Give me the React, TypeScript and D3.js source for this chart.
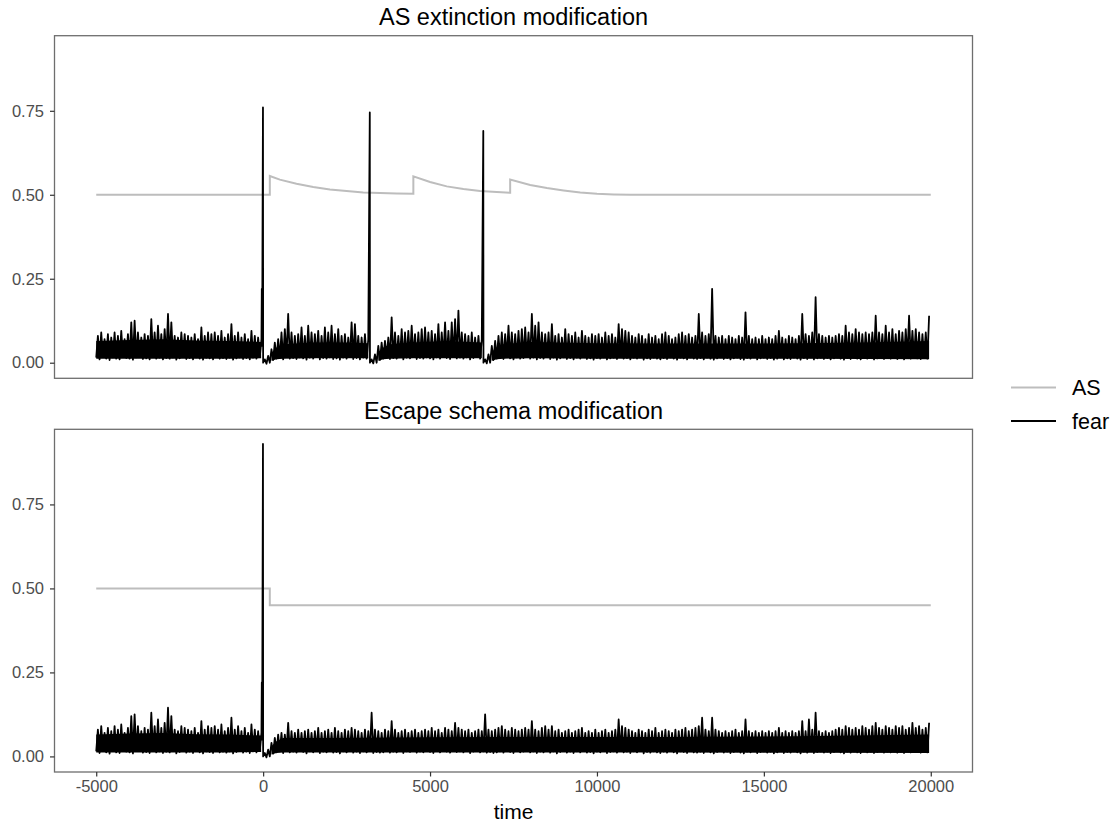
import { useRef, useEffect } from "react";
import * as d3 from "d3";

const NOISE_START = -5000;
const BIN = 100;

const panelTitles = ["AS extinction modification", "Escape schema modification"];
const xTicks = [-5000, 0, 5000, 10000, 15000, 20000];
const yTicks = [0, 0.25, 0.5, 0.75];
const seriesNames = ["AS", "fear"];

// -5000 .. -100 (same run in both panels)
const fearHighPre = [
  0.08, 0.09, 0.07, 0.085, 0.075, 0.09, 0.08, 0.095, 0.07, 0.085,
  0.12, 0.125, 0.09, 0.075, 0.085, 0.08, 0.13, 0.09, 0.11, 0.085,
  0.1, 0.145, 0.12, 0.08, 0.075, 0.09, 0.085, 0.08, 0.075, 0.085,
  0.07, 0.105, 0.08, 0.09, 0.085, 0.09, 0.08, 0.095, 0.075, 0.085,
  0.115, 0.08, 0.09, 0.075, 0.085, 0.07, 0.095, 0.08, 0.075, 0.07,
];
const fearLowPre = [
  0.015, 0.01, 0.018, 0.012, 0.008, 0.016, 0.012, 0.01, 0.02, 0.014,
  0.012, 0.009, 0.016, 0.018, 0.011, 0.013, 0.01, 0.017, 0.012, 0.015,
  0.01, 0.014, 0.012, 0.016, 0.009, 0.013, 0.018, 0.011, 0.014, 0.01,
  0.016, 0.012, 0.009, 0.015, 0.013, 0.01, 0.017, 0.012, 0.014, 0.011,
  0.015, 0.009, 0.013, 0.016, 0.011, 0.014, 0.01, 0.015, 0.012, 0.018,
];

// 0 .. 19900, AS extinction panel
const fearHighTop = [
  0.01, 0.02, 0.04, 0.06, 0.07, 0.09, 0.1, 0.145, 0.09, 0.08,
  0.085, 0.105, 0.08, 0.11, 0.09, 0.085, 0.095, 0.08, 0.105, 0.09,
  0.11, 0.085, 0.1, 0.08, 0.085, 0.075, 0.12, 0.115, 0.08, 0.075,
  0.085, 0.07, 0.01, 0.025, 0.05, 0.06, 0.065, 0.075, 0.135, 0.09,
  0.08, 0.1, 0.09, 0.095, 0.11, 0.085, 0.09, 0.1, 0.105, 0.09,
  0.095, 0.085, 0.115, 0.09, 0.12, 0.095, 0.12, 0.13, 0.155, 0.09,
  0.085, 0.08, 0.09, 0.075, 0.08, 0.07, 0.01, 0.025, 0.05, 0.065,
  0.08, 0.09, 0.085, 0.11, 0.09, 0.085, 0.095, 0.1, 0.105, 0.09,
  0.145, 0.11, 0.12, 0.09, 0.085, 0.09, 0.115, 0.08, 0.085, 0.075,
  0.1, 0.085, 0.08, 0.09, 0.075, 0.095, 0.08, 0.075, 0.085, 0.08,
  0.085, 0.075, 0.09, 0.08, 0.085, 0.075, 0.115, 0.1, 0.095, 0.09,
  0.08, 0.075, 0.085, 0.08, 0.07, 0.085, 0.075, 0.08, 0.07, 0.085,
  0.09, 0.08, 0.07, 0.075, 0.085, 0.09, 0.08, 0.085, 0.075, 0.08,
  0.145, 0.09, 0.08, 0.085, 0.22, 0.08, 0.075, 0.08, 0.07, 0.08,
  0.075, 0.07, 0.08, 0.075, 0.15, 0.08, 0.07, 0.075, 0.07, 0.08,
  0.07, 0.075, 0.07, 0.08, 0.095, 0.075, 0.07, 0.08, 0.075, 0.07,
  0.08, 0.145, 0.085, 0.08, 0.09, 0.195, 0.085, 0.08, 0.075, 0.08,
  0.075, 0.08, 0.085, 0.08, 0.11, 0.09, 0.085, 0.1, 0.09, 0.085,
  0.09, 0.085, 0.09, 0.14, 0.09, 0.085, 0.11, 0.09, 0.1, 0.085,
  0.095, 0.09, 0.1, 0.14, 0.095, 0.1, 0.09, 0.085, 0.09, 0.14,
];
const fearLowTop = [
  0.0, -0.003, 0.0, 0.008, 0.012, 0.015, 0.01, 0.017, 0.012, 0.014,
  0.011, 0.016, 0.013, 0.009, 0.015, 0.012, 0.018, 0.01, 0.014, 0.012,
  0.016, 0.011, 0.013, 0.009, 0.015, 0.012, 0.017, 0.011, 0.014, 0.01,
  0.015, 0.012, 0.0, -0.002, 0.0, 0.008, 0.012, 0.016, 0.011, 0.014,
  0.012, 0.017, 0.01, 0.015, 0.013, 0.018, 0.011, 0.014, 0.012, 0.016,
  0.013, 0.01, 0.016, 0.012, 0.018, 0.014, 0.011, 0.017, 0.013, 0.015,
  0.012, 0.016, 0.01, 0.014, 0.017, 0.012, 0.0, -0.002, 0.0, 0.008,
  0.012, 0.015, 0.011, 0.017, 0.013, 0.01, 0.016, 0.012, 0.014, 0.018,
  0.012, 0.015, 0.01, 0.014, 0.012, 0.017, 0.011, 0.015, 0.009, 0.013,
  0.016, 0.011, 0.014, 0.01, 0.015, 0.012, 0.017, 0.011, 0.013, 0.009,
  0.014, 0.012, 0.016, 0.01, 0.013, 0.015, 0.011, 0.017, 0.012, 0.014,
  0.01, 0.015, 0.012, 0.016, 0.009, 0.013, 0.011, 0.015, 0.012, 0.01,
  0.014, 0.011, 0.016, 0.012, 0.009, 0.015, 0.013, 0.01, 0.016, 0.012,
  0.011, 0.014, 0.01, 0.015, 0.012, 0.009, 0.013, 0.016, 0.011, 0.014,
  0.01, 0.013, 0.015, 0.011, 0.009, 0.014, 0.012, 0.016, 0.01, 0.013,
  0.015, 0.011, 0.014, 0.009, 0.012, 0.016, 0.01, 0.013, 0.011, 0.015,
  0.012, 0.009, 0.014, 0.011, 0.016, 0.01, 0.013, 0.015, 0.011, 0.014,
  0.01, 0.013, 0.016, 0.012, 0.009, 0.014, 0.011, 0.015, 0.012, 0.01,
  0.016, 0.012, 0.014, 0.01, 0.013, 0.017, 0.011, 0.014, 0.012, 0.015,
  0.011, 0.014, 0.01, 0.016, 0.012, 0.015, 0.013, 0.011, 0.016, 0.012,
];

// 0 .. 19900, escape schema panel
const fearHighBottom = [
  0.01, 0.02, 0.04, 0.055, 0.065, 0.07, 0.065, 0.1, 0.075, 0.07,
  0.08, 0.07, 0.075, 0.08, 0.07, 0.075, 0.085, 0.07, 0.075, 0.08,
  0.07, 0.085, 0.075, 0.07, 0.08, 0.075, 0.085, 0.08, 0.075, 0.07,
  0.08, 0.075, 0.13, 0.08, 0.075, 0.07, 0.08, 0.075, 0.105, 0.08,
  0.07, 0.075, 0.08, 0.07, 0.075, 0.08, 0.07, 0.075, 0.08, 0.075,
  0.085, 0.075, 0.08, 0.07, 0.085, 0.08, 0.075, 0.1, 0.085, 0.08,
  0.075, 0.08, 0.07, 0.075, 0.08, 0.075, 0.125, 0.08, 0.075, 0.08,
  0.085, 0.09, 0.08, 0.075, 0.085, 0.08, 0.075, 0.08, 0.085, 0.08,
  0.105, 0.08, 0.075, 0.085, 0.09, 0.08, 0.09, 0.075, 0.08, 0.07,
  0.075, 0.08, 0.07, 0.075, 0.08, 0.085, 0.07, 0.075, 0.07, 0.08,
  0.07, 0.075, 0.08, 0.07, 0.075, 0.08, 0.11, 0.09, 0.085, 0.08,
  0.075, 0.07, 0.08, 0.075, 0.07, 0.08, 0.075, 0.085, 0.07, 0.075,
  0.08, 0.075, 0.07, 0.08, 0.075, 0.08, 0.085, 0.075, 0.08, 0.085,
  0.09, 0.115, 0.08, 0.075, 0.115, 0.08, 0.075, 0.07, 0.075, 0.07,
  0.075, 0.08, 0.07, 0.075, 0.11, 0.075, 0.07, 0.075, 0.07, 0.075,
  0.07, 0.075, 0.07, 0.075, 0.085, 0.07, 0.075, 0.07, 0.075, 0.07,
  0.075, 0.105, 0.075, 0.11, 0.08, 0.13, 0.075, 0.07, 0.075, 0.07,
  0.075, 0.08, 0.085, 0.08, 0.09, 0.085, 0.08, 0.085, 0.08, 0.09,
  0.085, 0.08, 0.09, 0.1, 0.085, 0.08, 0.09, 0.085, 0.08, 0.09,
  0.085, 0.09, 0.08, 0.085, 0.1, 0.085, 0.09, 0.08, 0.085, 0.1,
];
const fearLowBottom = [
  0.0, -0.003, 0.0, 0.008, 0.012, 0.015, 0.01, 0.017, 0.012, 0.014,
  0.011, 0.016, 0.013, 0.009, 0.015, 0.012, 0.018, 0.01, 0.014, 0.012,
  0.016, 0.011, 0.013, 0.009, 0.015, 0.012, 0.017, 0.011, 0.014, 0.01,
  0.015, 0.012, 0.016, 0.01, 0.013, 0.011, 0.012, 0.016, 0.011, 0.014,
  0.012, 0.017, 0.01, 0.015, 0.013, 0.018, 0.011, 0.014, 0.012, 0.016,
  0.013, 0.01, 0.016, 0.012, 0.018, 0.014, 0.011, 0.017, 0.013, 0.015,
  0.012, 0.016, 0.01, 0.014, 0.017, 0.012, 0.015, 0.011, 0.013, 0.01,
  0.012, 0.015, 0.011, 0.017, 0.013, 0.01, 0.016, 0.012, 0.014, 0.018,
  0.012, 0.015, 0.01, 0.014, 0.012, 0.017, 0.011, 0.015, 0.009, 0.013,
  0.016, 0.011, 0.014, 0.01, 0.015, 0.012, 0.017, 0.011, 0.013, 0.009,
  0.014, 0.012, 0.016, 0.01, 0.013, 0.015, 0.011, 0.017, 0.012, 0.014,
  0.01, 0.015, 0.012, 0.016, 0.009, 0.013, 0.011, 0.015, 0.012, 0.01,
  0.014, 0.011, 0.016, 0.012, 0.009, 0.015, 0.013, 0.01, 0.016, 0.012,
  0.011, 0.014, 0.01, 0.015, 0.012, 0.009, 0.013, 0.016, 0.011, 0.014,
  0.01, 0.013, 0.015, 0.011, 0.009, 0.014, 0.012, 0.016, 0.01, 0.013,
  0.015, 0.011, 0.014, 0.009, 0.012, 0.016, 0.01, 0.013, 0.011, 0.015,
  0.012, 0.009, 0.014, 0.011, 0.016, 0.01, 0.013, 0.015, 0.011, 0.014,
  0.01, 0.013, 0.016, 0.012, 0.009, 0.014, 0.011, 0.015, 0.012, 0.01,
  0.016, 0.012, 0.014, 0.01, 0.013, 0.017, 0.011, 0.014, 0.012, 0.015,
  0.011, 0.014, 0.01, 0.016, 0.012, 0.015, 0.013, 0.011, 0.016, 0.012,
];

// solid core of the fear trace (where the raw samples overlap into a black band); null = break
const coreTimesTop = [
  -5000, -4000, -3000, -2000, -1000, -60, -55,
  250, 400, 600, 1500, 2500, 3150, 3160,
  3450, 3600, 3800, 4500, 5500, 6550, 6560,
  6850, 7000, 7200, 8000, 10000, 12000, 14000, 16000, 18000, 19950,
];
const coreLowTop = [
  0.012, 0.012, 0.012, 0.012, 0.012, 0.013, null,
  0.006, 0.01, 0.012, 0.013, 0.013, 0.013, null,
  0.006, 0.01, 0.012, 0.013, 0.013, 0.013, null,
  0.006, 0.01, 0.012, 0.013, 0.012, 0.012, 0.012, 0.012, 0.011, 0.01,
];
const coreHighTop = [
  0.065, 0.068, 0.07, 0.066, 0.065, 0.062, null,
  0.03, 0.045, 0.055, 0.06, 0.06, 0.058, null,
  0.03, 0.045, 0.055, 0.06, 0.065, 0.06, null,
  0.032, 0.045, 0.055, 0.062, 0.058, 0.057, 0.057, 0.058, 0.06, 0.065,
];
const coreTimesBottom = [
  -5000, -4000, -3000, -2000, -1000, -60, -55,
  250, 400, 600, 2000, 5000, 8000, 12000, 16000, 19950,
];
const coreLowBottom = [
  0.012, 0.012, 0.012, 0.012, 0.012, 0.013, null,
  0.006, 0.01, 0.012, 0.012, 0.012, 0.012, 0.012, 0.011, 0.01,
];
const coreHighBottom = [
  0.065, 0.068, 0.07, 0.066, 0.065, 0.062, null,
  0.03, 0.045, 0.055, 0.055, 0.057, 0.058, 0.058, 0.06, 0.065,
];

// the big single-step fear values
const spikeTimesTop = [-40, -30, -5, 3195, 6595];
const spikeValuesTop = [0.22, 0.05, 0.76, 0.745, 0.69];
const spikeTimesBottom = [-40, -30, -5];
const spikeValuesBottom = [0.22, 0.05, 0.93];

const asTimesTop = [
  -5000, 200, 200, 500, 1000, 1500, 2000, 2500, 3000, 3500, 4000, 4500,
  4500, 5000, 5500, 6000, 6500, 7000, 7400,
  7400, 8000, 8500, 9000, 9500, 10000, 10500, 11000, 20000,
];
const asValuesTop = [
  0.5, 0.5, 0.556, 0.545, 0.533, 0.523, 0.516, 0.511, 0.507, 0.505, 0.504, 0.503,
  0.555, 0.538, 0.525, 0.517, 0.511, 0.508, 0.506,
  0.545, 0.529, 0.52, 0.513, 0.507, 0.503, 0.501, 0.5, 0.5,
];
const asTimesBottom = [-5000, 200, 200, 20000];
const asValuesBottom = [0.5, 0.5, 0.45, 0.45];

type Pt = { time: number; value: number; k: number };
type Band = { time: number; lo: number | null; hi: number | null };

function buildFear(lows: number[], highs: number[], spikeT: number[], spikeV: number[]): Pt[] {
  const pts: Pt[] = [];
  lows.forEach((lo, i) => {
    const t = NOISE_START + i * BIN;
    pts.push({ time: t, value: lo, k: 1 });
    pts.push({ time: t + BIN / 2, value: highs[i], k: 1 });
  });
  spikeT.forEach((t, i) => pts.push({ time: t, value: spikeV[i], k: 0 }));
  pts.sort((a, b) => a.time - b.time || a.k - b.k);
  return pts;
}

function zipPts(ts: number[], vs: number[]): Pt[] {
  return ts.map((t, i) => ({ time: t, value: vs[i], k: 0 }));
}

function zipBand(ts: number[], lo: (number | null)[], hi: (number | null)[]): Band[] {
  return ts.map((t, i) => ({ time: t, lo: lo[i], hi: hi[i] }));
}

const FONT = "'Liberation Sans', Arial, Helvetica, sans-serif";

export default function App() {
  const svgRef = useRef<SVGSVGElement | null>(null);

  useEffect(() => {
    if (!svgRef.current) return;
    document.body.style.margin = "0";
    const width = 1120;
    const height = 825;
    const svg = d3.select(svgRef.current);
    svg.selectAll("*").remove();
    svg.attr("viewBox", `0 0 ${width} ${height}`);

    const panels = [
      {
        title: panelTitles[0],
        top: 35.7,
        bottom: 378.3,
        as: zipPts(asTimesTop, asValuesTop),
        fear: buildFear(fearLowPre.concat(fearLowTop), fearHighPre.concat(fearHighTop), spikeTimesTop, spikeValuesTop),
        core: zipBand(coreTimesTop, coreLowTop, coreHighTop),
        xAxis: false,
      },
      {
        title: panelTitles[1],
        top: 429.3,
        bottom: 772,
        as: zipPts(asTimesBottom, asValuesBottom),
        fear: buildFear(fearLowPre.concat(fearLowBottom), fearHighPre.concat(fearHighBottom), spikeTimesBottom, spikeValuesBottom),
        core: zipBand(coreTimesBottom, coreLowBottom, coreHighBottom),
        xAxis: true,
      },
    ];

    const left = 54.5;
    const right = 972.5;
    const x = d3.scaleLinear().domain([-6250, 21250]).range([left, right]);

    panels.forEach((p, pi) => {
      const y = d3.scaleLinear().domain([-0.0464, 0.9736]).range([p.bottom, p.top]);
      const g = svg.append("g");
      const clipId = `clip${pi}`;
      svg.append("clipPath").attr("id", clipId)
        .append("rect").attr("x", left).attr("y", p.top).attr("width", right - left).attr("height", p.bottom - p.top);

      const line = d3.line<Pt>().x(d => x(d.time)).y(d => y(d.value));
      const area = d3.area<Band>()
        .defined(d => d.lo !== null && d.hi !== null)
        .x(d => x(d.time))
        .y0(d => y(d.lo as number))
        .y1(d => y(d.hi as number));

      const plot = g.append("g").attr("clip-path", `url(#${clipId})`);
      plot.append("path").datum(p.as)
        .attr("fill", "none").attr("stroke", "#bdbdbd").attr("stroke-width", 2).attr("d", line);
      plot.append("path").datum(p.core)
        .attr("fill", "#000").attr("stroke", "none").attr("d", area);
      plot.append("path").datum(p.fear)
        .attr("fill", "none").attr("stroke", "#000").attr("stroke-width", 1.8)
        .attr("stroke-linejoin", "round").attr("d", line);

      g.append("rect")
        .attr("x", left).attr("y", p.top).attr("width", right - left).attr("height", p.bottom - p.top)
        .attr("fill", "none").attr("stroke", "#6e6e6e").attr("stroke-width", 1.3);

      const ya = g.append("g").attr("transform", `translate(${left},0)`)
        .call(d3.axisLeft(y).tickValues(yTicks).tickFormat(d3.format(".2f")).tickSize(4.5).tickPadding(6));
      ya.select(".domain").remove();
      ya.selectAll("line").attr("stroke", "#333").attr("stroke-width", 1.2);
      ya.selectAll("text").attr("fill", "#4d4d4d").style("font-size", "16.5px").style("font-family", FONT);

      if (p.xAxis) {
        const xa = g.append("g").attr("transform", `translate(0,${p.bottom})`)
          .call(d3.axisBottom(x).tickValues(xTicks).tickFormat(d => `${d}`).tickSize(4.5).tickPadding(3.5));
        xa.select(".domain").remove();
        xa.selectAll("line").attr("stroke", "#333").attr("stroke-width", 1.2);
        xa.selectAll("text").attr("fill", "#4d4d4d").style("font-size", "16.5px").style("font-family", FONT);
      }

      svg.append("text")
        .attr("x", (left + right) / 2).attr("y", p.top - 10.5)
        .attr("text-anchor", "middle")
        .style("font-family", FONT).style("font-size", "23.5px").attr("fill", "#000")
        .text(p.title);
    });

    svg.append("text")
      .attr("x", (left + right) / 2).attr("y", 819)
      .attr("text-anchor", "middle")
      .style("font-family", FONT).style("font-size", "21px").attr("fill", "#000")
      .text("time");

    const legendColor = d3.scaleOrdinal<string, string>().domain(seriesNames).range(["#bdbdbd", "#000"]);
    const legend = svg.append("g");
    seriesNames.forEach((name, i) => {
      const ly = 387.5 + i * 33.5;
      legend.append("line")
        .attr("x1", 1011).attr("x2", 1056).attr("y1", ly).attr("y2", ly)
        .attr("stroke", legendColor(name)).attr("stroke-width", 2);
      legend.append("text")
        .attr("x", 1072).attr("y", ly + 7.5)
        .style("font-family", FONT).style("font-size", "21.5px").attr("fill", "#000")
        .text(name);
    });
  }, []);

  return <svg ref={svgRef} width={1120} height={825} style={{ display: "block" }}></svg>;
}
